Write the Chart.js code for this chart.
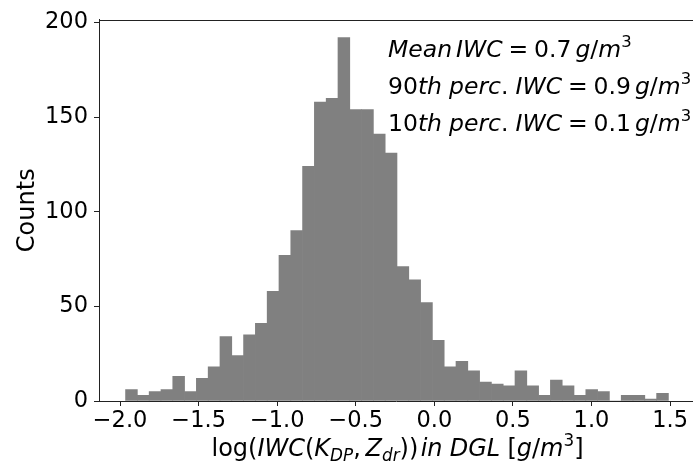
<!DOCTYPE html>
<html><head><meta charset="utf-8">
<script src="https://cdn.jsdelivr.net/npm/chart.js@4.4.0/dist/chart.umd.min.js"></script>
<style>html,body{margin:0;padding:0;background:#fff;overflow:hidden}
#wrap{width:693px;height:467px;position:relative}</style></head>
<body><div id="wrap"><canvas id="c" width="693" height="467"></canvas></div>
<script>
// Histogram bins (log IWC) and counts
const binStart = -1.965;
const binWidth = 0.0751;
const counts = [6,3,5,6,13,5,12,18,34,24,35,41,58,77,90,124,158,160,192,154,154,141,131,71,64,52,32,18,21,16,10,9,8,16,8,3,11,8,3,6,5,0,3,3,1,4];
const xTickValues = [-2.0,-1.5,-1.0,-0.5,0.0,0.5,1.0,1.5];
const yTickValues = [0,50,100,150,200];
const yTitle = 'Counts';
const xTitleSegs = [['log(','r'],['IWC','i'],['(','r'],['K','i'],['DP','sub'],[',','r'],[0.2,'gap'],['Z','i'],['dr','sub'],['))','r'],[0.1,'gap'],['in','i'],[0.3,'gap'],['DGL','i'],[0.3,'gap'],['[','r'],['g','i'],['/','r'],['m','i'],['3','sup'],[']','r']];
const statLines = [
  [['Mean','i'],[0.17,'gap'],['IWC','i'],[0.25,'gap'],['=','r'],[0.25,'gap'],['0.7','r'],[0.17,'gap'],['g','i'],['/','r'],['m','i'],['3','sup']],
  [['90','r'],['th','i'],[0.3,'gap'],['perc','i'],['.','r'],[0.3,'gap'],['IWC','i'],[0.25,'gap'],['=','r'],[0.25,'gap'],['0.9','r'],[0.17,'gap'],['g','i'],['/','r'],['m','i'],['3','sup']],
  [['10','r'],['th','i'],[0.3,'gap'],['perc','i'],['.','r'],[0.3,'gap'],['IWC','i'],[0.25,'gap'],['=','r'],[0.25,'gap'],['0.1','r'],[0.17,'gap'],['g','i'],['/','r'],['m','i'],['3','sup']]
];

const FAM = '"DejaVu Sans"';
const TICK = 22.5;
const LABEL = 24;
const STAT = 23.5;
const centers = counts.map((_, i) => binStart + (i + 0.5) * binWidth);
const fmt = v => v.toFixed(1).replace('-', '\u2212');

function drawRich(ctx, segs, x, y, size, align) {
  const items = segs.map(([t, s]) => {
    if (s === 'gap') return {gap: t * size};
    let fs = size, dy = 0, it = false;
    if (s === 'i') it = true;
    if (s === 'sub') { fs = size * 0.7; dy = size * 0.22; it = true; }
    if (s === 'sup') { fs = size * 0.7; dy = -size * 0.4; }
    const font = (it ? 'italic ' : '') + fs + 'px ' + FAM;
    ctx.font = font;
    return {t, font, dy, w: ctx.measureText(t).width};
  });
  const total = items.reduce((a, b) => a + (b.gap !== undefined ? b.gap : b.w), 0);
  let cx = align === 'center' ? x - total / 2 : x;
  ctx.textAlign = 'left';
  ctx.textBaseline = 'alphabetic';
  for (const it of items) {
    if (it.gap !== undefined) { cx += it.gap; continue; }
    ctx.font = it.font;
    ctx.fillText(it.t, cx, y + it.dy);
    cx += it.w;
  }
}

const textPlugin = {
  id: 'texts',
  afterDraw(chart) {
    const ctx = chart.ctx, a = chart.chartArea;
    ctx.save();
    ctx.strokeStyle = '#222';
    ctx.lineWidth = 1;
    ctx.beginPath();
    ctx.moveTo(a.left, Math.round(a.top) + 0.5);
    ctx.lineTo(a.right, Math.round(a.top) + 0.5);
    ctx.stroke();
    ctx.fillStyle = '#000';
    ctx.save();
    ctx.translate(34, (a.top + a.bottom) / 2);
    ctx.rotate(-Math.PI / 2);
    ctx.font = LABEL + 'px ' + FAM;
    ctx.textAlign = 'center';
    ctx.textBaseline = 'alphabetic';
    ctx.fillText(yTitle, 0, 0);
    ctx.restore();
    drawRich(ctx, xTitleSegs, 397.5, 456, LABEL, 'center');
    statLines.forEach((l, i) => drawRich(ctx, l, 388, 56.5 + i * 37, STAT, 'left'));
    ctx.restore();
  }
};

function gridFor(values) {
  return {display: true, drawOnChartArea: false, drawTicks: true, tickLength: 5, tickWidth: 1, offset: false,
    color: c => (c.tick && values.some(v => Math.abs(v - c.tick.value) < 1e-9)) ? '#222' : 'rgba(0,0,0,0)'};
}
const border = {display: true, color: '#222', width: 1};

new Chart(document.getElementById('c'), {
  type: 'bar',
  data: {datasets: [{
    data: centers.map((x, i) => ({x, y: counts[i]})),
    backgroundColor: '#808080', borderWidth: 0,
    barPercentage: 1, categoryPercentage: 1
  }]},
  options: {
    responsive: false, animation: false, devicePixelRatio: 1,
    layout: {padding: {top: 16, right: 0, bottom: 0, left: 0}, autoPadding: false},
    plugins: {legend: {display: false}, tooltip: {enabled: false}},
    scales: {
      x: {
        type: 'linear', min: -2.134, max: 1.646, offset: false,
        grid: gridFor(xTickValues), border,
        ticks: {font: {family: 'DejaVu Sans', size: TICK}, color: '#000', padding: 2, maxRotation: 0, autoSkip: false, callback: v => fmt(v)},
        afterBuildTicks: s => { s.ticks = xTickValues.map(v => ({value: v})); },
        afterFit: s => { s.height = 66; }
      },
      y: {
        type: 'linear', min: 0, max: 201.6,
        grid: gridFor(yTickValues), border,
        ticks: {font: {family: 'DejaVu Sans', size: TICK}, color: '#000', padding: 6},
        afterBuildTicks: s => { s.ticks = yTickValues.map(v => ({value: v})); },
        afterFit: s => { s.width = 99; }
      }
    }
  },
  plugins: [textPlugin]
});
</script></body></html>
